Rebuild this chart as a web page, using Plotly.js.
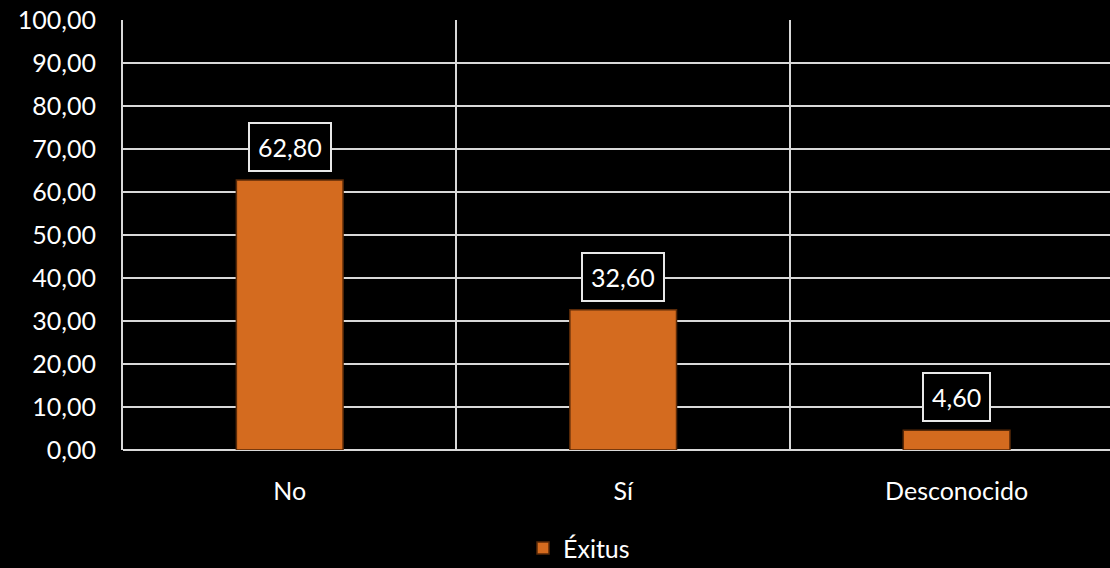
<!DOCTYPE html>
<html>
<head>
<meta charset="utf-8">
<script src="https://cdn.plot.ly/plotly-3.0.1.min.js"></script>
<style>html,body{margin:0;padding:0;background:#000;}#chart{width:1110px;height:568px;}</style>
</head>
<body>
<div id="chart"></div>
<script>
const categories = ["No", "Sí", "Desconocido"];
const exitus = [62.80, 32.60, 4.60];
const seriesName = "Éxitus";
const yTicks = [0, 10, 20, 30, 40, 50, 60, 70, 80, 90, 100];

const fontFamily = "Lato, 'Open Sans', sans-serif";
const fs = 25;

const trace = {
  type: "bar",
  x: categories,
  y: exitus,
  name: seriesName,
  width: 0.32,
  marker: { color: "#D46B1F", line: { color: "#5a2a08", width: 1.5 } },
  hoverinfo: "none"
};

const annotations = categories.map((c, i) => ({
  x: c, y: exitus[i], xref: "x", yref: "y",
  text: exitus[i].toFixed(2).replace(".", ","),
  showarrow: false, yanchor: "bottom", yshift: 8,
  font: { family: fontFamily, size: fs, color: "#ffffff" },
  bgcolor: "#000000", bordercolor: "#e8e8e8", borderwidth: 2, borderpad: 8
}));

const layout = {
  width: 1110, height: 568,
  paper_bgcolor: "#000000", plot_bgcolor: "#000000",
  margin: { l: 123, r: 0, t: 20, b: 118, autoexpand: false },
  separators: ",.",
  font: { family: fontFamily, size: fs, color: "#ffffff" },
  showlegend: true,
  legend: {
    orientation: "h", x: 0.462, xanchor: "center", y: -0.175, yanchor: "top",
    font: { family: fontFamily, size: fs, color: "#ffffff" }, bgcolor: "rgba(0,0,0,0)"
  },
  xaxis: {
    type: "category", range: [-0.5, 2.46], automargin: false,
    tickson: "boundaries", showgrid: true, gridcolor: "#d9d9d9", gridwidth: 2,
    ticks: "", ticklabelstandoff: 24,
    showline: false, zeroline: false,
    tickfont: { family: fontFamily, size: fs, color: "#ffffff" }
  },
  yaxis: {
    range: [0, 100], tickvals: yTicks, tickformat: ".2f", automargin: false,
    showgrid: true, gridcolor: "#d9d9d9", gridwidth: 2,
    zeroline: true, zerolinecolor: "#d9d9d9", zerolinewidth: 2,
    showline: true, linecolor: "#d9d9d9", linewidth: 2,
    ticks: "", ticklabelstandoff: 20,
    tickfont: { family: fontFamily, size: fs, color: "#ffffff" }
  },
  annotations: annotations,
  bargap: 0.68
};

Plotly.newPlot("chart", [trace], layout, { displayModeBar: false, staticPlot: true });
</script>
</body>
</html>
